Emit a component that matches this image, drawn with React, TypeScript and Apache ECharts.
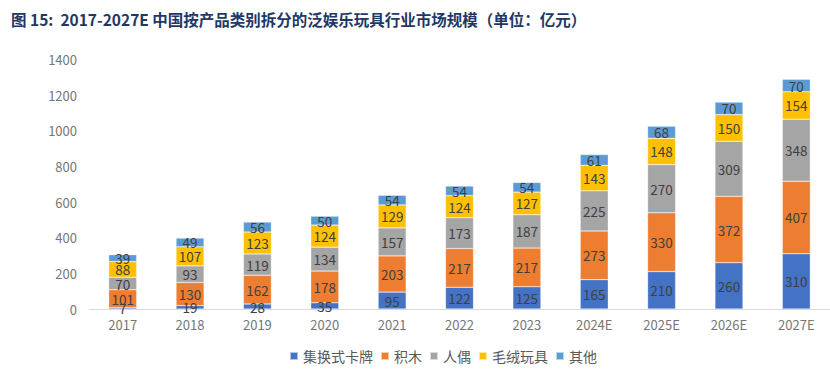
import React, { useEffect, useRef } from "react";
import * as echarts from "echarts";

const categories = ["2017", "2018", "2019", "2020", "2021", "2022", "2023", "2024E", "2025E", "2026E", "2027E"];
const cards = [7, 19, 28, 35, 95, 122, 125, 165, 210, 260, 310];
const blocks = [101, 130, 162, 178, 203, 217, 217, 273, 330, 372, 407];
const figures = [70, 93, 119, 134, 157, 173, 187, 225, 270, 309, 348];
const plush = [88, 107, 123, 124, 129, 124, 127, 143, 148, 150, 154];
const others = [39, 49, 56, 50, 54, 54, 54, 61, 68, 70, 70];
const seriesNames = ["集换式卡牌", "积木", "人偶", "毛绒玩具", "其他"];
const seriesData = [cards, blocks, figures, plush, others];
const colors = ["#4472C4", "#ED7D31", "#A5A5A5", "#FFC000", "#5B9BD5"];
const titleText = "图 15:  2017-2027E 中国按产品类别拆分的泛娱乐玩具行业市场规模（单位：亿元）";

const FONT = "'Noto Sans CJK SC', 'Liberation Sans', sans-serif";

export default function App() {
  const ref = useRef<HTMLDivElement>(null);
  useEffect(() => {
    if (!ref.current) return;
    const chart = echarts.init(ref.current, null, { renderer: "svg" });
    chart.setOption({
      animation: false,
      textStyle: { fontFamily: FONT },
      title: {
        text: titleText,
        left: 6,
        top: 6,
        textStyle: { fontSize: 15.5, fontWeight: "bold", color: "#1F3864", fontFamily: FONT },
      },
      legend: {
        data: seriesNames,
        bottom: 20,
        left: 284,
        icon: "rect",
        itemWidth: 8,
        itemHeight: 8,
        itemGap: 7,
        textStyle: { fontSize: 14, color: "#595959", fontFamily: FONT },
      },
      grid: { left: 89, top: 59.5, width: 751, height: 249.5, containLabel: false },
      xAxis: {
        type: "category",
        data: categories,
        axisLine: { lineStyle: { color: "#D9D9D9", width: 1 } },
        axisTick: { show: false },
        axisLabel: { fontSize: 13, color: "#767676", margin: 9, fontFamily: FONT },
      },
      yAxis: {
        type: "value",
        min: 0,
        max: 1400,
        interval: 200,
        axisLine: { show: false },
        axisTick: { show: false },
        splitLine: { show: false },
        axisLabel: {
          fontSize: 13,
          color: "#767676",
          margin: 12,
          fontFamily: FONT,
          formatter: (v: number) => String(v),
        },
      },
      series: seriesNames.map((name, i) => ({
        name,
        type: "bar",
        stack: "total",
        data: seriesData[i],
        barWidth: 28,
        itemStyle: { color: colors[i], borderColor: "rgba(255,255,255,0.6)", borderWidth: 0.5 },
        label: {
          show: true,
          position: "inside",
          fontSize: 13.5,
          color: "#404040",
          fontFamily: FONT,
        },
      })),
    });
    return () => chart.dispose();
  }, []);
  return (
    <div
      ref={ref}
      style={{ position: "absolute", left: 0, top: 0, width: 830, height: 388, background: "#fff" }}
    />
  );
}
